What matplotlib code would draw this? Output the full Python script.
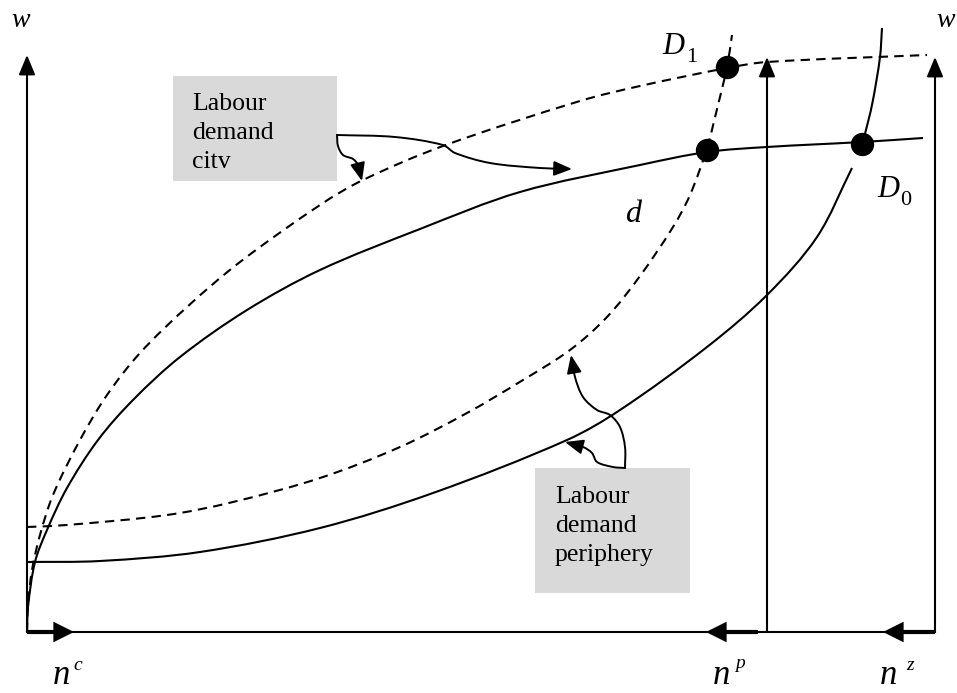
import numpy as np
import matplotlib
matplotlib.use("Agg")
import matplotlib.pyplot as plt
from matplotlib.path import Path
from matplotlib.patches import FancyArrowPatch, PathPatch, Rectangle

# ---------------- data (pixel-like coordinates) ----------------
W, H = 957, 693

# labour demand city, before (solid) and after (dashed)
city_solid_x = [27, 28, 35, 47, 67, 98, 133, 180, 247, 320, 420, 520, 640, 707, 767, 862, 923]
city_solid_y = [632, 607, 562, 530, 488, 440, 400, 357, 310, 270, 229, 192, 165, 152, 147, 142, 138]
city_dash_x = [27, 28, 32, 40, 53, 80, 107, 140, 187, 240, 320, 363, 443, 580, 640, 727, 767, 927]
city_dash_y = [632, 605, 570, 535, 495, 440, 395, 353, 307, 262, 205, 180, 146, 101, 86, 68, 62, 55]

# labour demand periphery (solid: lower branch + upper branch, dashed)
peri_solid_x = [27, 100, 200, 320, 433, 567, 620, 707, 767, 817, 852]
peri_solid_y = [562, 561, 552, 528, 493, 440, 410, 347, 295, 237, 168]
peri_solid_top_x = [862, 868, 873, 880, 882]
peri_solid_top_y = [145, 122, 100, 57, 28]
peri_dash_x = [27, 67, 167, 233, 320, 400, 467, 523, 570, 607, 640, 673, 690, 707, 718, 727, 732]
peri_dash_y = [527, 525, 515, 502, 478, 447, 413, 380, 350, 317, 276, 227, 195, 148, 105, 67, 35]

# equilibrium points
eq_x = [727, 707, 862]
eq_y = [67, 150, 144]

# axes geometry
axis_left_x, axis_mid_x, axis_right_x = 27, 767, 935
axis_base_y = 632
axis_top_left, axis_top_mid, axis_top_right = 55, 57, 57

# callout boxes: (x0, y0, x1, y1)
box_city = (173, 76, 337, 181)
box_peri = (535, 468, 690, 593)
city_lines = ["Labour", "demand", "citv"]
peri_lines = ["Labour", "demand", "periphery"]

# callout arrow paths
call_city_a = [(337, 135), (395, 137), (443, 145), (455, 153), (490, 163), (540, 168), (572, 169)]
call_city_b = [(337, 135), (338, 146), (343, 155), (353, 159), (358, 165), (362, 181)]
call_peri_a = [(625, 468), (625, 447), (620, 427), (610, 415), (597, 410), (583, 397), (575, 377), (571, 355)]
call_peri_b = [(625, 468), (613, 467), (597, 462), (592, 453), (583, 447), (565, 442)]

# ---------------- drawing ----------------
fig = plt.figure(figsize=(W / 100, H / 100), dpi=100)
ax = fig.add_axes([0, 0, 1, 1])
ax.set_xlim(0, W)
ax.set_ylim(H, 0)
ax.axis("off")


def smooth_path(pts):
    """Chord-length Catmull-Rom spline through the points, as cubic Bezier segments."""
    pts = np.asarray(pts, dtype=float)
    n = len(pts)
    d = np.linalg.norm(np.diff(pts, axis=0), axis=1)
    d[d == 0] = 1e-6
    t = np.concatenate([[0], np.cumsum(d)])
    m = np.zeros_like(pts)
    m[0] = (pts[1] - pts[0]) / d[0]
    m[-1] = (pts[-1] - pts[-2]) / d[-1]
    for i in range(1, n - 1):
        m[i] = (pts[i + 1] - pts[i - 1]) / (t[i + 1] - t[i - 1])
    verts = [pts[0]]
    codes = [Path.MOVETO]
    for i in range(n - 1):
        h = d[i]
        verts += [pts[i] + m[i] * h / 3, pts[i + 1] - m[i + 1] * h / 3, pts[i + 1]]
        codes += [Path.CURVE4] * 3
    return Path(verts, codes)


def curve(xs, ys, dashed=False, lw=1.5):
    p = smooth_path(list(zip(xs, ys)))
    patch = PathPatch(p, facecolor="none", edgecolor="black", lw=lw,
                      linestyle=(0, (4.5, 3)) if dashed else "-", capstyle="butt")
    ax.add_patch(patch)


serif = ["Liberation Serif", "DejaVu Serif"]

# boxes (drawn first so lines sit on top)
for (x0, y0, x1, y1) in (box_city, box_peri):
    ax.add_patch(Rectangle((x0, y0), x1 - x0, y1 - y0, facecolor="#d9d9d9",
                           edgecolor="none", zorder=0))
for i, t in enumerate(city_lines):
    ax.text(192, 110 + 29 * i, t, family=serif, fontsize=18.5, ha="left", va="baseline")
for i, t in enumerate(peri_lines):
    ax.text(555, 503 + 29 * i, t, family=serif, fontsize=18.5, ha="left", va="baseline")

# curves
curve(city_solid_x, city_solid_y)
curve(city_dash_x, city_dash_y, dashed=True)
curve(peri_solid_x, peri_solid_y)
curve(peri_solid_top_x, peri_solid_top_y)
curve(peri_dash_x, peri_dash_y, dashed=True)

# axes lines
ax.plot([axis_left_x, axis_right_x], [axis_base_y, axis_base_y], color="black", lw=1.5)
for x, top in ((axis_left_x, axis_top_left), (axis_mid_x, axis_top_mid), (axis_right_x, axis_top_right)):
    ax.add_patch(FancyArrowPatch((x, axis_base_y), (x, top), arrowstyle="-|>,head_length=12,head_width=5",
                                 mutation_scale=1, lw=1.5, color="black", shrinkA=0, shrinkB=0))

# thick arrows along the base
for (x0, x1) in ((axis_left_x, 74), (758, 706), (axis_right_x, 883)):
    ax.add_patch(FancyArrowPatch((x0, axis_base_y), (x1, axis_base_y),
                                 arrowstyle="-|>,head_length=10,head_width=5",
                                 mutation_scale=1, lw=3, color="black", shrinkA=0, shrinkB=0,
                                 joinstyle="miter", capstyle="butt"))

# callout arrows
for pts in (call_city_a, call_city_b, call_peri_a, call_peri_b):
    ax.add_patch(FancyArrowPatch(path=smooth_path(pts), arrowstyle="-|>,head_length=11,head_width=4.5",
                                 mutation_scale=1, lw=1.4, color="black"))

# equilibrium dots
ax.scatter(eq_x, eq_y, s=250, color="black", zorder=5)

# labels
it = dict(family=serif, style="italic", ha="left", va="baseline")
ax.text(11, 27, "w", fontsize=20, **it)
ax.text(936, 27, "w", fontsize=20, **it)
for nx, sup, sx, sy in ((53, "c", 73, 670), (713, "p", 735, 668), (880, "z", 906, 670)):
    ax.text(nx, 684, "n", fontsize=25, **it)
    ax.text(sx, sy, sup, fontsize=14, **it)
ax.text(662, 54, "D", fontsize=22, **it)
ax.text(686, 62, "1", fontsize=16, family=serif, ha="left", va="baseline")
ax.text(877, 197, "D", fontsize=22, **it)
ax.text(900, 205, "0", fontsize=16, family=serif, ha="left", va="baseline")
ax.text(625, 222, "d", fontsize=23, **it)

fig.savefig("out.png", dpi=100)
